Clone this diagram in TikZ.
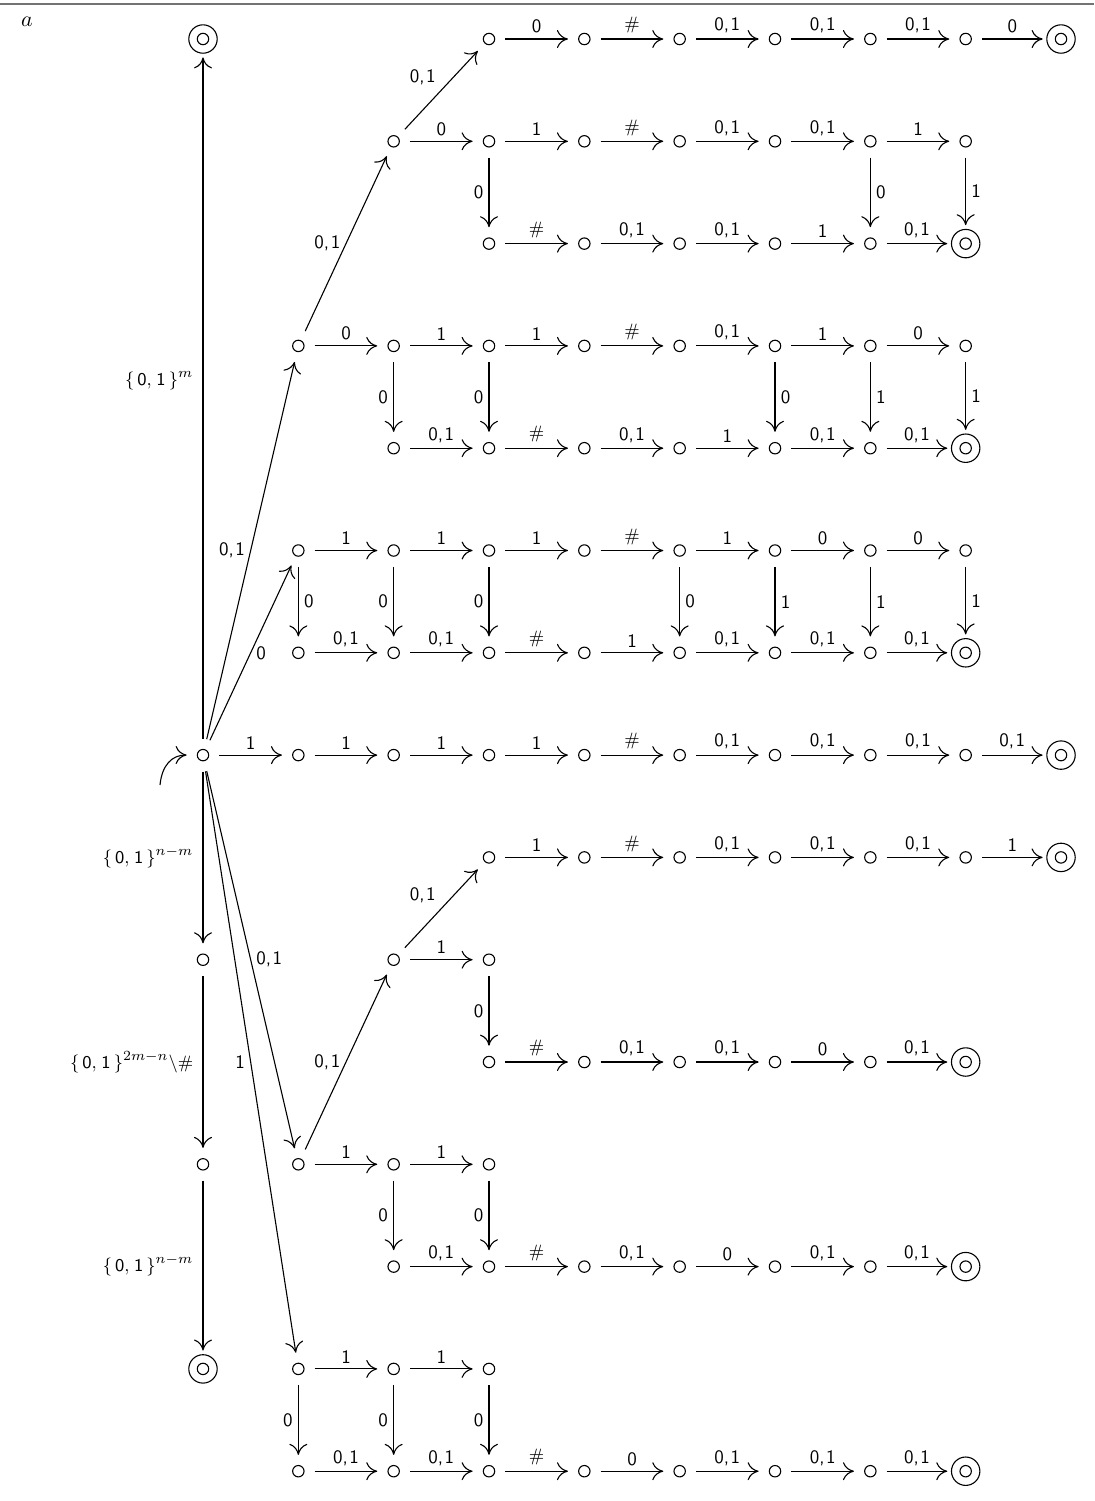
\documentclass[tikz,border=0pt]{standalone}
\usetikzlibrary{arrows.meta}
\DeclareMathSizes{9.5}{9.5}{7}{5}
% edge-label shorthands
\newcommand\ab{0,\kern0.08em 1}
\newcommand\hs{$\#$}
\newcommand\bset[1]{$\{\,\mathsf{0,\kern0.08em 1}\,\}^{#1}$}
% state helpers: name n<row>-<col>
\newcommand\sn[2]{\node[st] (n#1-#2) at (#2,#1) {};}
\newcommand\fn[2]{\node[fin] (n#1-#2) at (#2,#1) {};}
% horizontal edge: row, from col, to col, label
\newcommand\he[4]{\draw[ar] (n#1-#2) -- node[lab,above]{#4} (n#1-#3);}
% vertical edge: col, from row, to row, side, label
\newcommand\ve[5]{\draw[ar] (n#2-#1) -- node[lab,#4]{#5} (n#3-#1);}
\begin{document}
\begin{tikzpicture}[x=0.5pt,y=-0.5pt,
  ar/.style={-{Computer Modern Rightarrow[length=5.5pt,width=9pt]}, line width=0.55pt},
  st/.style={circle, minimum size=16pt, inner sep=0pt,
    path picture={\draw[line width=0.55pt] (path picture bounding box.center) circle (2.85pt);}},
  fin/.style={circle, minimum size=18pt, inner sep=0pt,
    path picture={\draw[line width=0.55pt] (path picture bounding box.center) circle (2.85pt)
      (path picture bounding box.center) circle (7.1pt);}},
  lab/.style={font=\fontsize{9.5}{11.4}\selectfont\sffamily, inner sep=2.6pt},
]
\useasboundingbox (0,0) rectangle (1094,1501);
\draw[black!55, line width=0.8pt] (0,4) -- (1094,4);
\node[font=\fontsize{11}{13}\selectfont] (tag) at (27,22) {$a$};

\begin{scope}[shift={(203,39)}, x=47.667pt, y=-51.15pt]
% row 0
\fn{0}{0}
\foreach \c in {3,...,8} {\sn{0}{\c}}
\fn{0}{9}
% row 1
\foreach \c in {2,...,8} {\sn{1}{\c}}
% row 2
\foreach \c in {3,...,7} {\sn{2}{\c}}
\fn{2}{8}
% row 3
\foreach \c in {1,...,8} {\sn{3}{\c}}
% row 4
\foreach \c in {2,...,7} {\sn{4}{\c}}
\fn{4}{8}
% row 5
\foreach \c in {1,...,8} {\sn{5}{\c}}
% row 6
\foreach \c in {1,...,7} {\sn{6}{\c}}
\fn{6}{8}
% row 7 (initial state in column 0)
\foreach \c in {0,...,8} {\sn{7}{\c}}
\fn{7}{9}
% row 8
\foreach \c in {3,...,8} {\sn{8}{\c}}
\fn{8}{9}
% row 9
\sn{9}{0}\sn{9}{2}\sn{9}{3}
% row 10
\foreach \c in {3,...,7} {\sn{10}{\c}}
\fn{10}{8}
% row 11
\foreach \c in {0,...,3} {\sn{11}{\c}}
% row 12
\foreach \c in {2,...,7} {\sn{12}{\c}}
\fn{12}{8}
% row 13
\fn{13}{0}
\foreach \c in {1,...,3} {\sn{13}{\c}}
% row 14
\foreach \c in {1,...,7} {\sn{14}{\c}}
\fn{14}{8}
\end{scope}

% initial arrow
\coordinate (init) at (160,785);
\draw[ar] (init) .. controls (162,765) and (172,755) .. (n7-0);

% horizontal transitions
\he{0}{3}{4}{0}\he{0}{4}{5}{\hs}\he{0}{5}{6}{\ab}\he{0}{6}{7}{\ab}\he{0}{7}{8}{\ab}\he{0}{8}{9}{0}
\he{1}{2}{3}{0}\he{1}{3}{4}{1}\he{1}{4}{5}{\hs}\he{1}{5}{6}{\ab}\he{1}{6}{7}{\ab}\he{1}{7}{8}{1}
\he{2}{3}{4}{\hs}\he{2}{4}{5}{\ab}\he{2}{5}{6}{\ab}\he{2}{6}{7}{1}\he{2}{7}{8}{\ab}
\he{3}{1}{2}{0}\he{3}{2}{3}{1}\he{3}{3}{4}{1}\he{3}{4}{5}{\hs}\he{3}{5}{6}{\ab}\he{3}{6}{7}{1}\he{3}{7}{8}{0}
\he{4}{2}{3}{\ab}\he{4}{3}{4}{\hs}\he{4}{4}{5}{\ab}\he{4}{5}{6}{1}\he{4}{6}{7}{\ab}\he{4}{7}{8}{\ab}
\he{5}{1}{2}{1}\he{5}{2}{3}{1}\he{5}{3}{4}{1}\he{5}{4}{5}{\hs}\he{5}{5}{6}{1}\he{5}{6}{7}{0}\he{5}{7}{8}{0}
\he{6}{1}{2}{\ab}\he{6}{2}{3}{\ab}\he{6}{3}{4}{\hs}\he{6}{4}{5}{1}\he{6}{5}{6}{\ab}\he{6}{6}{7}{\ab}\he{6}{7}{8}{\ab}
\he{7}{0}{1}{1}\he{7}{1}{2}{1}\he{7}{2}{3}{1}\he{7}{3}{4}{1}\he{7}{4}{5}{\hs}\he{7}{5}{6}{\ab}\he{7}{6}{7}{\ab}\he{7}{7}{8}{\ab}\he{7}{8}{9}{\ab}
\he{8}{3}{4}{1}\he{8}{4}{5}{\hs}\he{8}{5}{6}{\ab}\he{8}{6}{7}{\ab}\he{8}{7}{8}{\ab}\he{8}{8}{9}{1}
\he{9}{2}{3}{1}
\he{10}{3}{4}{\hs}\he{10}{4}{5}{\ab}\he{10}{5}{6}{\ab}\he{10}{6}{7}{0}\he{10}{7}{8}{\ab}
\he{11}{1}{2}{1}\he{11}{2}{3}{1}
\he{12}{2}{3}{\ab}\he{12}{3}{4}{\hs}\he{12}{4}{5}{\ab}\he{12}{5}{6}{0}\he{12}{6}{7}{\ab}\he{12}{7}{8}{\ab}
\he{13}{1}{2}{1}\he{13}{2}{3}{1}
\he{14}{1}{2}{\ab}\he{14}{2}{3}{\ab}\he{14}{3}{4}{\hs}\he{14}{4}{5}{0}\he{14}{5}{6}{\ab}\he{14}{6}{7}{\ab}\he{14}{7}{8}{\ab}

% vertical transitions
\ve{3}{1}{2}{left}{0}\ve{7}{1}{2}{right}{0}\ve{8}{1}{2}{right}{1}
\ve{2}{3}{4}{left}{0}\ve{3}{3}{4}{left}{0}\ve{6}{3}{4}{right}{0}\ve{7}{3}{4}{right}{1}\ve{8}{3}{4}{right}{1}
\ve{1}{5}{6}{right}{0}\ve{2}{5}{6}{left}{0}\ve{3}{5}{6}{left}{0}\ve{5}{5}{6}{right}{0}\ve{6}{5}{6}{right}{1}\ve{7}{5}{6}{right}{1}\ve{8}{5}{6}{right}{1}
\ve{3}{9}{10}{left}{0}
\ve{2}{11}{12}{left}{0}\ve{3}{11}{12}{left}{0}
\ve{1}{13}{14}{left}{0}\ve{2}{13}{14}{left}{0}\ve{3}{13}{14}{left}{0}

% long transitions in column 0
\draw[ar] (n7-0) -- node[lab,left=2pt,pos=0.525]{\bset{m}} (n0-0);
\draw[ar] (n7-0) -- node[lab,left=2pt]{\bset{n-m}} (n9-0);
\draw[ar] (n9-0) -- node[lab,left=2pt]{\bset{2m-n}$\backslash\#$} (n11-0);
\draw[ar] (n11-0) -- node[lab,left=2pt]{\bset{n-m}} (n13-0);

% diagonal transitions
\draw[ar] (n7-0) -- node[lab,left]{\ab} (n3-1);
\draw[ar] (n7-0) -- node[lab,right]{0} (n5-1);
\draw[ar] (n3-1) -- node[lab,left]{\ab} (n1-2);
\draw[ar] (n1-2) -- node[lab,above left]{\ab} (n0-3);
\draw[ar] (n7-0) -- node[lab,right]{\ab} (n11-1);
\draw[ar] (n7-0) -- node[lab,left]{1} (n13-1);
\draw[ar] (n11-1) -- node[lab,left]{\ab} (n9-2);
\draw[ar] (n9-2) -- node[lab,above left]{\ab} (n8-3);
\end{tikzpicture}
\end{document}
